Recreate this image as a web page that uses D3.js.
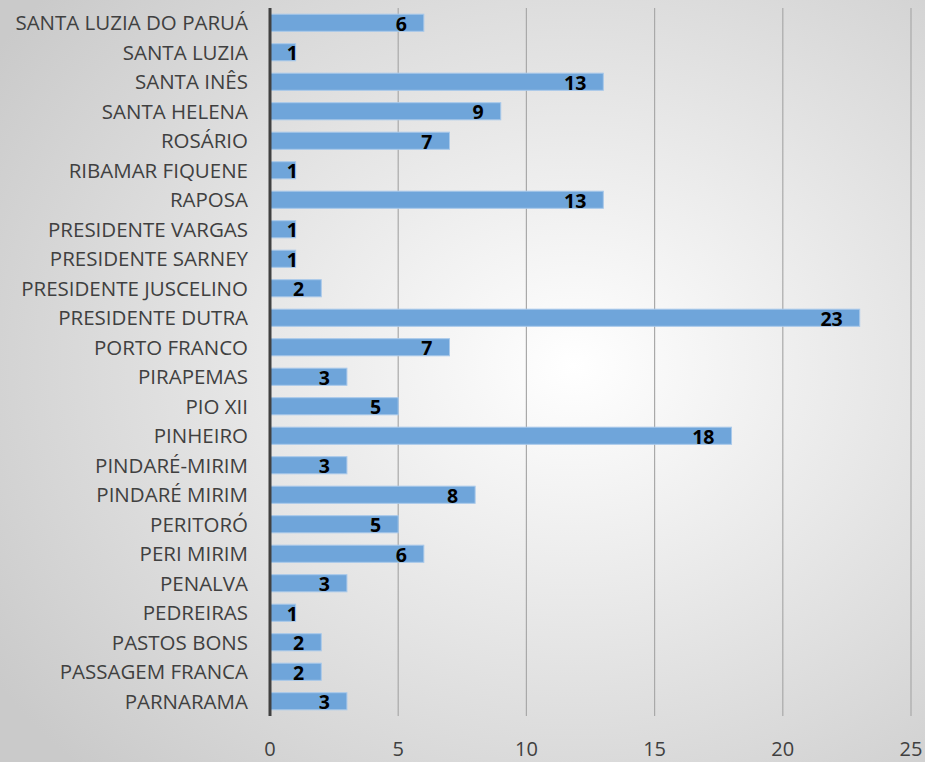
<!DOCTYPE html>
<html>
<head>
<meta charset="utf-8">
<style>
    body { margin: 0; }
    svg { display: block; }
    .cat text { font-family: "Open Sans", sans-serif; font-size: 20.5px; fill: #404040; }
    .x text { font-family: "Open Sans", sans-serif; font-size: 20px; fill: #404040; }
    .val { font-family: "Open Sans", sans-serif; font-size: 19.5px; font-weight: 700; fill: #000; }
</style>
</head>
<body>
<svg width="925" height="762"></svg>
<script src="https://d3js.org/d3.v7.min.js"></script>
<script>
    let cities = [
        "SANTA LUZIA DO PARUÁ", "SANTA LUZIA", "SANTA INÊS", "SANTA HELENA", "ROSÁRIO",
        "RIBAMAR FIQUENE", "RAPOSA", "PRESIDENTE VARGAS", "PRESIDENTE SARNEY",
        "PRESIDENTE JUSCELINO", "PRESIDENTE DUTRA", "PORTO FRANCO", "PIRAPEMAS", "PIO XII",
        "PINHEIRO", "PINDARÉ-MIRIM", "PINDARÉ MIRIM", "PERITORÓ", "PERI MIRIM", "PENALVA",
        "PEDREIRAS", "PASTOS BONS", "PASSAGEM FRANCA", "PARNARAMA"]
    let counts = [6, 1, 13, 9, 7, 1, 13, 1, 1, 2, 23, 7, 3, 5, 18, 3, 8, 5, 6, 3, 1, 2, 2, 3]
    let ticks = [0, 5, 10, 15, 20, 25]

    let svg = d3.select("svg")
    let width = 925, height = 762

    // background: soft radial gradient like the office chart style
    let grad = svg.append("defs").append("radialGradient")
        .attr("id", "bg")
        .attr("cx", "62%").attr("cy", "48%").attr("r", "75%")
    grad.append("stop").attr("offset", "0%").attr("stop-color", "#ffffff")
    grad.append("stop").attr("offset", "100%").attr("stop-color", "#cacaca")
    svg.append("rect").attr("width", width).attr("height", height).attr("fill", "url(#bg)")

    let x = d3.scaleLinear().domain([0, 25]).range([270, 911])
    let y = d3.scaleBand().domain(cities).range([8, 716]).paddingInner(0.42).paddingOuter(0.21)

    // gridlines
    svg.append("g")
        .selectAll("line")
        .data(ticks.slice(1))
        .join("line")
        .attr("x1", d => x(d)).attr("x2", d => x(d))
        .attr("y1", 8).attr("y2", 716)
        .attr("stroke", "#a9a9a9")
        .attr("stroke-width", 1.2)

    // x tick labels
    svg.append("g")
        .attr("class", "x")
        .selectAll("text")
        .data(ticks)
        .join("text")
        .attr("x", d => x(d))
        .attr("y", 756)
        .attr("text-anchor", "middle")
        .text(d => d)

    // bars
    svg.append("g")
        .selectAll("rect")
        .data(counts)
        .join("rect")
        .attr("x", x(0))
        .attr("y", (d, i) => y(cities[i]))
        .attr("width", d => x(d) - x(0))
        .attr("height", y.bandwidth())
        .attr("fill", "#6fa5da")
        .attr("stroke", "#a9c9ea")
        .attr("stroke-width", 1)

    // axis line
    svg.append("line")
        .attr("x1", x(0)).attr("x2", x(0))
        .attr("y1", 8).attr("y2", 716)
        .attr("stroke", "#404040")
        .attr("stroke-width", 3)

    // category labels
    svg.append("g")
        .attr("class", "cat")
        .selectAll("text")
        .data(cities)
        .join("text")
        .attr("x", 248)
        .attr("y", d => y(d) + y.bandwidth() / 2)
        .attr("dy", "0.36em")
        .attr("text-anchor", "end")
        .text(d => d)

    // value labels (inside end)
    svg.append("g")
        .selectAll("text")
        .data(counts)
        .join("text")
        .attr("class", "val")
        .attr("x", d => Math.max(x(d) - 17, x(0) + 28))
        .attr("y", (d, i) => y(cities[i]) + y.bandwidth() / 2)
        .attr("dy", "0.4em")
        .attr("text-anchor", "end")
        .text(d => d)
</script>
</body>
</html>
